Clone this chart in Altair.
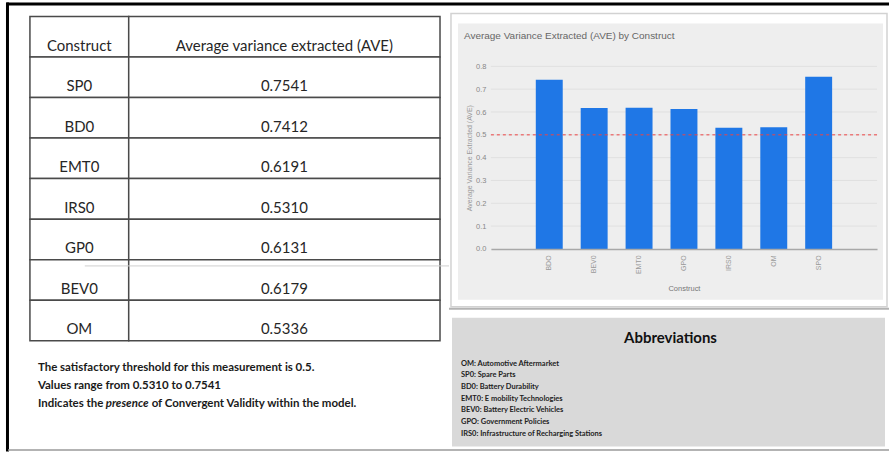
import altair as alt
import pandas as pd

# ---------------- data ----------------
table_header = ["Construct", "Average variance extracted (AVE)"]
table_constructs = ["SP0", "BD0", "EMT0", "IRS0", "GP0", "BEV0", "OM"]
table_ave = ["0.7541", "0.7412", "0.6191", "0.5310", "0.6131", "0.6179", "0.5336"]

bar_constructs = ["BDO", "BEV0", "EMT0", "GPO", "IRS0", "OM", "SPO"]
bar_values = [0.7412, 0.6179, 0.6191, 0.6131, 0.5310, 0.5336, 0.7541]
y_tick_values = [0.0, 0.1, 0.2, 0.3, 0.4, 0.5, 0.6, 0.7, 0.8]
threshold = [0.5]

chart_title = "Average Variance Extracted (AVE) by Construct"
y_title = "Average Variance Extracted (AVE)"
x_title = "Construct"

note_lines = ["The satisfactory threshold for this measurement is 0.5.",
              "Values range from 0.5310 to 0.7541"]
note_last = ["Indicates the", "presence", "of Convergent Validity within the model."]

abbrev_title = "Abbreviations"
abbrev_lines = ["OM: Automotive Aftermarket",
                "SP0: Spare Parts",
                "BD0: Battery Durability",
                "EMT0: E mobility Technologies",
                "BEV0: Battery Electric Vehicles",
                "GPO: Government Policies",
                "IRS0: Infrastructure of Recharging Stations"]

# ---------------- styles ----------------
TABLE_FONT = "Lato, sans-serif"
NOTE_FONT = "Lato, sans-serif"
CHART_FONT = "Liberation Sans, Arial, sans-serif"
deco = pd.DataFrame({"d": [0]})
W, H = 387, 183
COL1_W, TABLE_W = 99, 411

# ---------------- left: table + notes ----------------
canvas = alt.Chart(deco).mark_rect(fill="white").encode(
    x=alt.value(-30), x2=alt.value(861), y=alt.value(-66), y2=alt.value(386))
top_line = alt.Chart(deco).mark_rule(color="black", strokeWidth=3).encode(
    x=alt.value(-23.5), x2=alt.value(861), y=alt.value(-62.5))
left_line = alt.Chart(deco).mark_rule(color="black", strokeWidth=3).encode(
    x=alt.value(-22.5), y=alt.value(-64), y2=alt.value(386))
bottom_line = alt.Chart(deco).mark_rule(color="#9a9a9a", strokeWidth=1.5).encode(
    x=alt.value(-22), x2=alt.value(861), y=alt.value(384.5))

row_ids = list(range(8))
tdf = pd.DataFrame({"row": row_ids,
                    "c1": [table_header[0]] + table_constructs,
                    "c2": [table_header[1]] + table_ave})
row_y = alt.Y("row:O", axis=None,
              scale=alt.Scale(range=[-50, 275], paddingInner=0, paddingOuter=0))
tbase = alt.Chart(tdf).encode(y=row_y)
cell_kw = dict(fill="white", stroke="#4a4a4a", strokeWidth=1.5)
cells1 = tbase.mark_rect(**cell_kw).encode(x=alt.value(0), x2=alt.value(COL1_W))
cells2 = tbase.mark_rect(**cell_kw).encode(x=alt.value(COL1_W), x2=alt.value(TABLE_W))
txt_kw = dict(font=TABLE_FONT, fontSize=15, color="#262626", dy=9)
txt1 = tbase.mark_text(**txt_kw).encode(x=alt.value(COL1_W / 2), text="c1:N")
txt2 = tbase.mark_text(**txt_kw).encode(x=alt.value((COL1_W + TABLE_W) / 2), text="c2:N")
table_core = alt.layer(cells1, cells2, txt1, txt2)

note_scale = alt.Scale(domain=[0, 1, 2], range=[302, 338], padding=0)
notes_df = pd.DataFrame({"line": [0, 1], "text": note_lines})
note_kw = dict(font=NOTE_FONT, fontSize=11.5, fontWeight="bold", color="#1a1a1a",
               align="left")
notes_main = alt.Chart(notes_df).mark_text(**note_kw).encode(
    x=alt.value(8), y=alt.Y("line:O", scale=note_scale, axis=None), text="text:N")
seg_x = [8, 76, 122]
seg_layers = []
for i, seg in enumerate(note_last):
    kw = dict(note_kw)
    if i == 1:
        kw["fontStyle"] = "italic"
    seg_layers.append(
        alt.Chart(pd.DataFrame({"line": [2], "text": [seg]})).mark_text(**kw).encode(
            x=alt.value(seg_x[i]), y=alt.Y("line:O", scale=note_scale, axis=None),
            text="text:N"))
notes_core = alt.layer(notes_main, *seg_layers)
faint_line = alt.Chart(deco).mark_rule(color="#cfcfcf", strokeWidth=1).encode(
    x=alt.value(55), x2=alt.value(420), y=alt.value(200))

left = alt.layer(canvas, top_line, left_line, bottom_line, table_core, faint_line,
                 notes_core).resolve_scale(y="independent").properties(width=TABLE_W, height=H)

# ---------------- right: bar chart + abbreviations ----------------
frame = alt.Chart(deco).mark_rect(fill="white", stroke="#d2d2d2", strokeWidth=1.5).encode(
    x=alt.value(-40), x2=alt.value(397), y=alt.value(-53), y2=alt.value(241))
inner = alt.Chart(deco).mark_rect(fill="#eeeeee").encode(
    x=alt.value(-33), x2=alt.value(393), y=alt.value(-43), y2=alt.value(234))
sep_line = alt.Chart(deco).mark_rule(color="#b3b3b3", strokeWidth=2).encode(
    x=alt.value(-42), x2=alt.value(399), y=alt.value(243))

y_scale = alt.Scale(domain=[0, 0.8], nice=False)
y_axis = alt.Axis(values=y_tick_values, format=".1f", title=y_title, titleFont=CHART_FONT,
                  titleFontSize=7, titleColor="#999999", titleFontWeight="normal",
                  labelFont=CHART_FONT, labelFontSize=7.5, labelColor="#888888",
                  domain=False, ticks=False, grid=False, labelPadding=5, titlePadding=3,
                  zindex=1)
grid = alt.Chart(pd.DataFrame({"AVE": y_tick_values[1:]})).mark_rule(
    color="#e0e0e0", strokeWidth=1).encode(y=alt.Y("AVE:Q", scale=y_scale, axis=y_axis))

bars_df = pd.DataFrame({"Construct": bar_constructs, "AVE": bar_values})
bars = alt.Chart(bars_df).mark_bar(color="#1f77e6").encode(
    x=alt.X("Construct:N", sort=bar_constructs,
            scale=alt.Scale(paddingInner=0.4, paddingOuter=1.0),
            axis=alt.Axis(title=x_title, labelAngle=-90, labelFont=CHART_FONT,
                          labelFontSize=7, labelColor="#999999", ticks=False,
                          domainColor="#a8a8a8", domainWidth=1.5, grid=False,
                          titleFont=CHART_FONT, titleFontSize=7.5, titleColor="#777777",
                          titleFontWeight="normal", labelPadding=6, titlePadding=11,
                          zindex=1)),
    y=alt.Y("AVE:Q", scale=y_scale, axis=y_axis))
thr = alt.Chart(pd.DataFrame({"AVE": threshold})).mark_rule(
    color="#ee4444", strokeDash=[3, 3], strokeWidth=1).encode(
    y=alt.Y("AVE:Q", scale=y_scale, axis=y_axis))
title_txt = alt.Chart(deco).mark_text(align="left", font=CHART_FONT, fontSize=10,
                                      color="#666666").encode(
    x=alt.value(-27), y=alt.value(-30), text=alt.value(chart_title))

bar_core = alt.layer(frame, inner, sep_line, grid, bars, thr, title_txt)

ab_panel = alt.Chart(deco).mark_rect(fill="#d9d9d9").encode(
    x=alt.value(-39), x2=alt.value(395), y=alt.value(252), y2=alt.value(381))
ab_head = alt.Chart(deco).mark_text(font=NOTE_FONT, fontSize=15, fontWeight="bold",
                                    color="#111111").encode(
    x=alt.value(180), y=alt.value(272), text=alt.value(abbrev_title))
ab_df = pd.DataFrame({"idx": list(range(len(abbrev_lines))), "text": abbrev_lines})
ab_lines = alt.Chart(ab_df).mark_text(align="left", font=NOTE_FONT, fontSize=7.5,
                                      fontWeight="bold", color="#222222").encode(
    x=alt.value(-30),
    y=alt.Y("idx:O", axis=None, scale=alt.Scale(range=[298, 368], padding=0)),
    text="text:N")

right = alt.layer(bar_core, ab_panel, ab_head, ab_lines).resolve_scale(
    y="independent").properties(width=W, height=H)

chart = alt.hconcat(left, right, spacing=51, bounds="flush").properties(
    padding=0, background="white"
).configure_view(stroke=None)

chart.save("out.html", embed_options={"renderer": "svg", "actions": False})
